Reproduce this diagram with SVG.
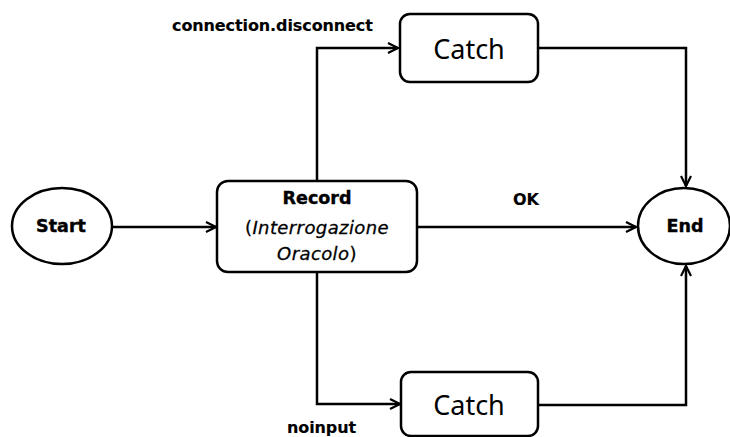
<svg xmlns="http://www.w3.org/2000/svg" width="730" height="437" viewBox="0 0 730 437">
  <style>
    .shape { fill: #ffffff; stroke: #000000; stroke-width: 2.5; }
    .edge { fill: none; stroke: #000000; stroke-width: 2.5; marker-end: url(#arrow); }
    .bold { font-family: "DejaVu Sans", "Liberation Sans", sans-serif; font-weight: bold; font-size: 17.5px; fill: #000; stroke: #000; stroke-width: 0.4; }
    .label { font-family: "DejaVu Sans", "Liberation Sans", sans-serif; font-weight: bold; font-size: 16px; fill: #000; stroke: #000; stroke-width: 0.15; letter-spacing: -0.1px; }
    .catch { font-family: "Noto Sans", "Open Sans", sans-serif; font-size: 27px; fill: #000; }
    .ital { font-family: "DejaVu Sans", "Liberation Sans", sans-serif; font-style: italic; font-size: 18px; letter-spacing: 0.4px; fill: #000; stroke: #000; stroke-width: 0.3; }
  </style>
  <defs>
    <marker id="arrow" viewBox="0 0 12 12" refX="11" refY="6" markerWidth="12" markerHeight="12" markerUnits="userSpaceOnUse" orient="auto">
      <path d="M1,1 L11,6 L1,11" fill="none" stroke="#000" stroke-width="2.2"/>
    </marker>
  </defs>

  <rect width="730" height="437" fill="#ffffff"/>

  <!-- connectors -->
  <g id="connectors">
    <path class="edge" d="M112,227 L216,227"/>
    <path class="edge" d="M317,181 L317,48 L398,48"/>
    <path class="edge" d="M317,272 L317,404 L400,404"/>
    <path class="edge" d="M417,227 L636,227"/>
    <path class="edge" d="M538,48 L686,48 L686,186"/>
    <path class="edge" d="M538,405 L686,405 L686,266"/>
  </g>

  <!-- edge labels -->
  <g id="edge-labels">
    <text class="label" x="172" y="31">connection.disconnect</text>
    <text class="label" x="287" y="433">noinput</text>
    <text class="label" x="513" y="205">OK</text>
  </g>

  <g id="start">
    <ellipse class="shape" cx="62" cy="226" rx="50" ry="38"/>
    <text class="bold" x="61" y="232" text-anchor="middle">Start</text>
  </g>

  <g id="record">
    <rect class="shape" x="217" y="181" width="200" height="91" rx="11"/>
    <text class="bold" x="317" y="204" text-anchor="middle">Record</text>
    <text class="ital" x="317" y="234" text-anchor="middle"><tspan font-style="normal">(</tspan>Interrogazione</text>
    <text class="ital" x="317" y="260" text-anchor="middle">Oracolo<tspan font-style="normal">)</tspan></text>
  </g>

  <g id="catch-disconnect">
    <rect class="shape" x="400" y="14" width="138" height="68" rx="10"/>
    <text class="catch" x="469" y="59" text-anchor="middle">Catch</text>
  </g>

  <g id="catch-noinput">
    <rect class="shape" x="401" y="372" width="137" height="64" rx="10"/>
    <text class="catch" x="469" y="415" text-anchor="middle">Catch</text>
  </g>

  <g id="end">
    <ellipse class="shape" cx="684" cy="226" rx="46" ry="38"/>
    <text class="bold" x="685" y="232" text-anchor="middle">End</text>
  </g>
</svg>
